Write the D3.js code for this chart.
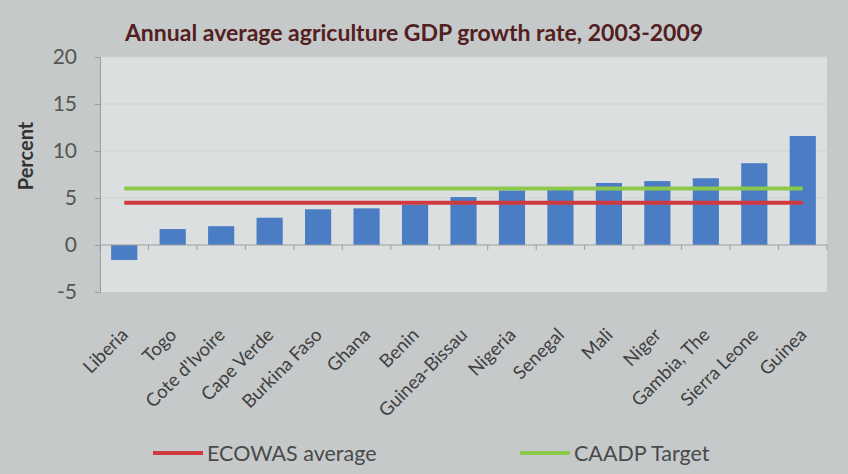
<!DOCTYPE html>
<html>
<head>
<meta charset="utf-8">
<script src="https://cdn.jsdelivr.net/npm/d3@7"></script>
<style>
  body { margin: 0; background: #c6c9ca; }
  text { font-family: Lato, "Open Sans", sans-serif; }
</style>
</head>
<body>
<div id="chart"></div>
<script>
// data
var countries = ["Liberia", "Togo", "Cote d'Ivoire", "Cape Verde", "Burkina Faso", "Ghana", "Benin",
  "Guinea-Bissau", "Nigeria", "Senegal", "Mali", "Niger", "Gambia, The", "Sierra Leone", "Guinea"];
var growth = [-1.6, 1.7, 2.0, 2.9, 3.8, 3.9, 4.3, 5.1, 5.8, 5.9, 6.6, 6.8, 7.1, 8.7, 11.6];
var ecowasAvg = 4.5;
var caadpTarget = 6.0;
var yTicks = [-5, 0, 5, 10, 15, 20];

var width = 848, height = 474;

var svg = d3.select("#chart").append("svg")
    .attr("width", width)
    .attr("height", height);

svg.append("rect")
    .attr("width", width)
    .attr("height", height)
    .attr("fill", "#c6c9ca");

var x = d3.scaleBand()
    .domain(countries)
    .range([100, 827]);

var y = d3.scaleLinear()
    .domain([-5, 20])
    .range([292, 57]);

// plot area
svg.append("rect")
    .attr("x", 101)
    .attr("y", y(20))
    .attr("width", 827 - 101)
    .attr("height", y(-5) - y(20))
    .attr("fill", "#dcdfe0");

// gridlines
svg.append("g")
    .selectAll("line")
    .data(yTicks.filter(d => d > 0))
    .enter()
    .append("line")
    .attr("x1", 101)
    .attr("x2", 827)
    .attr("y1", d => y(d))
    .attr("y2", d => y(d))
    .attr("stroke", "#d0d3d4")
    .attr("stroke-width", 1);

// title
svg.append("text")
    .attr("x", 414)
    .attr("y", 41)
    .attr("text-anchor", "middle")
    .style("font-size", "23px")
    .style("font-weight", "bold")
    .style("fill", "#522020")
    .text("Annual average agriculture GDP growth rate, 2003-2009");

// y axis
var yAxis = svg.append("g")
    .attr("transform", "translate(100,0)")
    .call(d3.axisLeft(y).tickValues(yTicks).tickSize(5).tickPadding(18).tickFormat(d => String(d)));
yAxis.select(".domain").attr("stroke", "#9a9c9e");
yAxis.selectAll(".tick line").attr("stroke", "#9a9c9e");
yAxis.selectAll(".tick text")
    .style("font-size", "21px")
    .style("font-family", "Lato, sans-serif")
    .attr("fill", "#555");

svg.append("text")
    .attr("transform", "translate(33,156) rotate(-90)")
    .attr("text-anchor", "middle")
    .style("font-size", "20px")
    .style("font-weight", "bold")
    .style("fill", "#333")
    .text("Percent");

// bars
var barW = x.bandwidth() * 0.54;
svg.append("g")
    .selectAll("rect")
    .data(growth)
    .enter()
    .append("rect")
    .attr("x", (d, i) => x(countries[i]) + (x.bandwidth() - barW) / 2)
    .attr("y", d => y(Math.max(0, d)))
    .attr("width", barW)
    .attr("height", d => Math.abs(y(d) - y(0)))
    .attr("fill", "#4a7dc4");

// x axis at zero with ticks between categories
var xAxis = svg.append("g")
    .attr("transform", "translate(0," + y(0) + ")");
xAxis.append("line")
    .attr("x1", 100).attr("x2", 827)
    .attr("stroke", "#9a9c9e");
xAxis.selectAll("line.tk")
    .data(countries.concat(["end"]))
    .enter()
    .append("line")
    .attr("class", "tk")
    .attr("x1", (d, i) => i < countries.length ? x(d) : 827)
    .attr("x2", (d, i) => i < countries.length ? x(d) : 827)
    .attr("y1", 0).attr("y2", 5)
    .attr("stroke", "#9a9c9e");

// category labels
svg.append("g")
    .selectAll("text")
    .data(countries)
    .enter()
    .append("text")
    .attr("transform", d => "translate(" + (x(d) + x.bandwidth() / 2 + 5) + ",336) rotate(-45)")
    .attr("text-anchor", "end")
    .style("font-size", "18.5px")
    .style("fill", "#404040")
    .text(d => d);

// reference lines
[[ecowasAvg, "#d0393d"], [caadpTarget, "#8cc84b"]].forEach(function (r) {
  svg.append("path")
      .datum(countries)
      .attr("d", d3.line().x(d => x(d) + x.bandwidth() / 2).y(() => y(r[0])))
      .attr("fill", "none")
      .attr("stroke", r[1])
      .attr("stroke-width", 4);
});

// legend
var legend = [
  {label: "ECOWAS average", color: "#d0393d", x: 153},
  {label: "CAADP Target", color: "#8cc84b", x: 520}
];
var lg = svg.append("g")
    .selectAll("g")
    .data(legend)
    .enter()
    .append("g")
    .attr("transform", d => "translate(" + d.x + ",453)");
lg.append("line")
    .attr("x1", 0).attr("x2", 50)
    .attr("stroke", d => d.color)
    .attr("stroke-width", 4);
lg.append("text")
    .attr("x", 54)
    .attr("y", 8)
    .style("font-size", "21.5px")
    .style("fill", "#4a4a4a")
    .text(d => d.label);
</script>
</body>
</html>
